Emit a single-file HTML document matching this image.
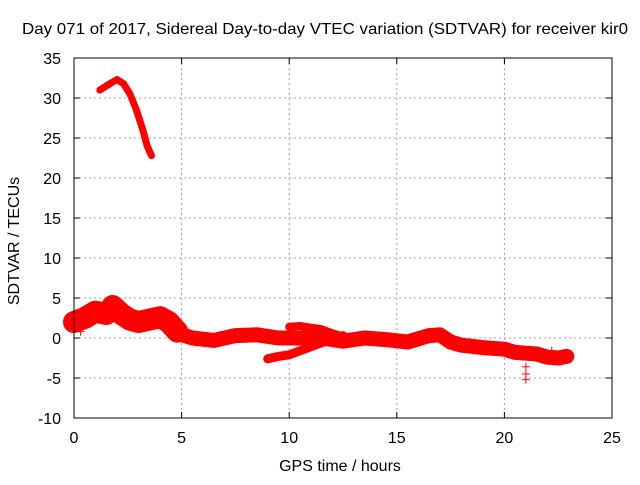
<!DOCTYPE html>
<html><head><meta charset="utf-8"><style>
body{margin:0;background:#fff}
svg text{font-family:"Liberation Sans",sans-serif;font-size:16px;fill:#000}
</style></head><body>
<svg id="chart" width="640" height="480" xmlns="http://www.w3.org/2000/svg">
<text x="22" y="34" textLength="606" lengthAdjust="spacingAndGlyphs">Day 071 of 2017, Sidereal Day-to-day VTEC variation (SDTVAR) for receiver kir0</text>
<text transform="translate(19,241) rotate(-90)" text-anchor="middle">SDTVAR / TECUs</text>
<text x="340" y="471" text-anchor="middle">GPS time / hours</text>
<g id="grid"></g><g id="ticks"></g><g id="marks"></g>
<rect x="74" y="58" width="538" height="360" fill="none" stroke="#000" stroke-width="1"/>
</svg>
<script>
const xTicks=[0,5,10,15,20,25];
const yTicks=[-10,-5,0,5,10,15,20,25,30,35];
const arcX=[1.2,1.5,1.8,2.0,2.3,2.6,2.9,3.2,3.4,3.6];
const arcY=[31,31.5,32,32.3,31.8,30.5,28.5,26,24,22.8];
const earlyX=[0,0.5,1,1.5,1.8,2.2,2.6,3,3.5,4,4.4,4.8];
const earlyY=[2,2.5,3.3,3,4,3,2.3,2,2.3,2.6,2,0.8];
const mainX=[4.8,5.5,6.5,7.5,8.5,9.5,10.5,11.5,12.5,13.5,14.5,15.5,16.5,17,17.5,18,19,20,20.5,21,21.5,22,22.5,22.9];
const mainY=[0.6,0,-0.3,0.3,0.4,0,0,0,-0.4,0,-0.2,-0.5,0.3,0.4,-0.5,-0.9,-1.2,-1.4,-1.8,-1.9,-2,-2.4,-2.5,-2.3];
const lowX=[9,9.5,10,10.5,11,11.5,12,12.5];
const lowY=[-2.6,-2.3,-2.1,-1.6,-1.1,-0.6,-0.1,0.3];
const upX=[10,10.5,11,11.5,12,12.5,13];
const upY=[1.4,1.5,1.3,1.1,0.6,0.2,-0.3];
const outX=[21,21,21,21.8,22.2,0.3];
const outY=[-3.6,-4.5,-5.2,-2.4,-1.6,0.8];
const X=v=>74+v*538/25, Y=v=>418-(v+10)*8;
const ns="http://www.w3.org/2000/svg";
function mk(tag,parent,attrs){const e=document.createElementNS(ns,tag);for(const k in attrs)e.setAttribute(k,attrs[k]);document.getElementById(parent).appendChild(e);return e;}
xTicks.forEach(t=>{
 if(t>0&&t<25){const g=mk('line','grid',{x1:X(t),x2:X(t),y1:58,y2:418,stroke:'#a0a0a0','stroke-dasharray':'2,3'});
 
 }
 mk('line','ticks',{x1:X(t),x2:X(t),y1:418,y2:412,stroke:'#000'});
 mk('line','ticks',{x1:X(t),x2:X(t),y1:58,y2:64,stroke:'#000'});
 const l=mk('text','ticks',{x:X(t),y:443,'text-anchor':'middle'});l.textContent=t;
 
 
});
yTicks.forEach(t=>{
 if(t>-10&&t<35){const g=mk('line','grid',{x1:74,x2:612,y1:Y(t),y2:Y(t),stroke:'#a0a0a0','stroke-dasharray':'2,3'});
 
 }
 mk('line','ticks',{x1:74,x2:80,y1:Y(t),y2:Y(t),stroke:'#000'});
 mk('line','ticks',{x1:612,x2:606,y1:Y(t),y2:Y(t),stroke:'#000'});
 const l=mk('text','ticks',{x:61,y:Y(t)+6,'text-anchor':'end'});l.textContent=t;
 
 
});
function band(xs,ys,w,name){
 const p=mk('polyline','marks',{points:xs.map((x,i)=>X(x)+','+Y(ys[i])).join(' '),fill:'none',stroke:'#ff0000','stroke-width':w,'stroke-linejoin':'round','stroke-linecap':'round'});
 
 
}
band(arcX,arcY,7,'series-arc');
band(earlyX,earlyY,22,'series-early-band');
band(mainX,mainY,15,'series-main-band');
band(lowX,lowY,9,'series-lower-branch');
band(upX,upY,8,'series-upper-branch');
outX.forEach((x,i)=>{
 const p=mk('path','marks',{d:`M${X(x)-4},${Y(outY[i])}h8M${X(x)},${Y(outY[i])-4}v8`,stroke:'#ff0000','stroke-width':1});
 
 
});
</script>
</body></html>
